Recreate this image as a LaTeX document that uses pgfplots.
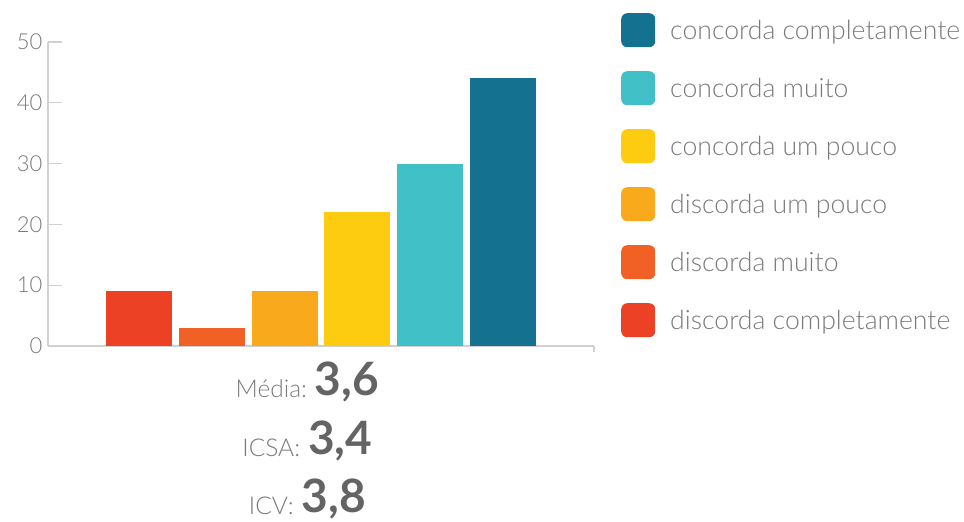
\documentclass[border=0pt]{standalone}
\usepackage{fontspec}
\setmainfont{Lato}[UprightFont={* Light},BoldFont={* Bold}]
\usepackage{pgfplots}
\pgfplotsset{compat=1.18}
\definecolor{dcomp}{HTML}{EC4124}
\definecolor{dmuito}{HTML}{F16025}
\definecolor{dpouco}{HTML}{F8AA1C}
\definecolor{cpouco}{HTML}{FDCB0F}
\definecolor{cmuito}{HTML}{41C0C8}
\definecolor{ccomp}{HTML}{147190}
\definecolor{axgray}{HTML}{D0D0D0}
\definecolor{txgray}{HTML}{7A7A7A}
\definecolor{numgray}{HTML}{646464}
\begin{document}
\begin{tikzpicture}
\path[use as bounding box] (-48pt,-176pt) rectangle (916pt,346pt);
\begin{axis}[
  at={(0,0)}, anchor=south west,
  scale only axis, width=546pt, height=304pt,
  xmin=-0.25, xmax=7.25, ymin=0, ymax=50,
  axis x line=bottom, axis y line=left,
  axis line style={-, draw=axgray, line width=1.2pt},
  ytick={0,10,20,30,40,50}, xtick=\empty,
  extra x ticks={7.25}, extra x tick labels={},
  extra x tick style={major tick length=6pt},
  tick align=inside, major tick length=14pt,
  tick style={draw=axgray, line width=1.2pt},
  /pgf/number format/assume math mode=true,
  yticklabel style={font=\fontsize{22}{26}\selectfont, text=txgray, xshift=-2pt},
  ybar, bar width=66pt, bar shift=0pt,
  clip=false,
  reverse legend,
  legend image code/.code={\fill[rounded corners=6pt] (0pt,-17pt) rectangle (34pt,17pt);},
  legend cell align=left,
  legend style={at={(1.0495,1.0954)}, anchor=north west, draw=none, fill=none,
    inner sep=0pt, row sep=24pt,
    font=\fontsize{26.6}{32}\selectfont, text=txgray,
    nodes={inner sep=0pt},
    /tikz/every odd column/.append style={column sep=15pt}},
]
\addplot[fill=dcomp, draw=none] coordinates {(1,9)};
\addlegendentry{discorda completamente}
\addplot[fill=dmuito, draw=none] coordinates {(2,3)};
\addlegendentry{discorda muito}
\addplot[fill=dpouco, draw=none] coordinates {(3,9)};
\addlegendentry{discorda um pouco}
\addplot[fill=cpouco, draw=none] coordinates {(4,22)};
\addlegendentry{concorda um pouco}
\addplot[fill=cmuito, draw=none] coordinates {(5,30)};
\addlegendentry{concorda muito}
\addplot[fill=ccomp, draw=none] coordinates {(6,44)};
\addlegendentry{concorda completamente}
\node[anchor=base, inner sep=0pt] at (rel axis cs:0.475,0) [yshift=-51pt]
  {{\color{txgray}\fontsize{24.5}{29}\selectfont Média:}\hspace{8pt}\raisebox{2pt}{\color{numgray}\fontsize{46}{52}\selectfont\bfseries 3,6}};
\node[anchor=base, inner sep=0pt] at (rel axis cs:0.475,0) [yshift=-110pt]
  {{\color{txgray}\fontsize{24.5}{29}\selectfont ICSA:}\hspace{8pt}\raisebox{2pt}{\color{numgray}\fontsize{46}{52}\selectfont\bfseries 3,4}};
\node[anchor=base, inner sep=0pt] at (rel axis cs:0.475,0) [yshift=-168pt]
  {{\color{txgray}\fontsize{24.5}{29}\selectfont ICV:}\hspace{8pt}\raisebox{2pt}{\color{numgray}\fontsize{46}{52}\selectfont\bfseries 3,8}};
\end{axis}
\end{tikzpicture}
\end{document}
